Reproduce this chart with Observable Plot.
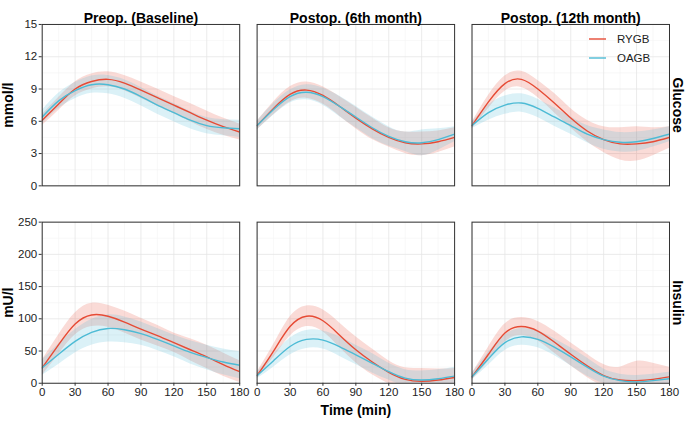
<!DOCTYPE html>
<html>
<head>
<meta charset="utf-8">
<script src="https://cdn.jsdelivr.net/npm/d3@7"></script>
<script src="https://cdn.jsdelivr.net/npm/@observablehq/plot@0.6"></script>
<style>
  body { margin: 0; background: #fff; font-family: "Liberation Sans", Arial, sans-serif; }
  #chart { position: relative; width: 685px; height: 426px; overflow: hidden; }
  #chart > svg { display: block; }
  g[aria-label="x-axis label"] text,
  g[aria-label="y-axis label"] text,
  g[aria-label="fx-axis tick label"] text,
  g[aria-label="fy-axis tick label"] text { font-weight: bold; font-size: 14px; fill: #000; }
  g[aria-label="x-axis tick label"] text,
  g[aria-label="y-axis tick label"] text { font-size: 11.5px; fill: #222; }
  #legend { position: absolute; left: 588.5px; top: 29.5px; font-size: 11.5px; color: #222; }
  #legend .item { display: flex; align-items: center; height: 19px; }
  #legend .sw { display: block; margin-right: 11.5px; }
</style>
</head>
<body>
<div id="chart"></div>
<script>
// ---- data ----
const time = [0, 15, 30, 45, 60, 75, 90, 105, 120, 135, 150, 165, 180];
const periods = ["Preop. (Baseline)", "Postop. (6th month)", "Postop. (12th month)"];
const groups = ["RYGB", "OAGB"];
const groupColors = ["#E64B35", "#4DBBD5"];

const timeTicks = [0, 30, 60, 90, 120, 150, 180];
const timeMinor = [15, 45, 75, 105, 135, 165];
const glucoseTicks = [0, 3, 6, 9, 12, 15];
const glucoseMinor = [1.5, 4.5, 7.5, 10.5, 13.5];
const insulinTicks = [0, 50, 100, 150, 200, 250];
const insulinMinor = [25, 75, 125, 175, 225];

// Glucose (mmol/l): mean curves and ribbon half-widths
const gluRYGBPre   = [6.1, 7.6, 9.0, 9.7, 9.9, 9.55, 8.9, 8.2, 7.5, 6.8, 6.1, 5.5, 5.0];
const gluRYGBPreW  = [0.5, 0.6, 0.65, 0.7, 0.7, 0.7, 0.75, 0.8, 0.8, 0.85, 0.85, 0.8, 0.75];
const gluOAGBPre   = [6.4, 7.9, 8.85, 9.4, 9.4, 9.0, 8.3, 7.5, 6.8, 6.1, 5.6, 5.4, 5.3];
const gluOAGBPreW  = [0.6, 0.7, 0.75, 0.8, 0.85, 0.85, 0.85, 0.85, 0.85, 0.8, 0.75, 0.75, 0.8];
const gluRYGB6m    = [5.6, 7.2, 8.5, 8.9, 8.4, 7.4, 6.3, 5.3, 4.5, 4.0, 3.9, 4.1, 4.5];
const gluRYGB6mW   = [0.4, 0.6, 0.7, 0.75, 0.8, 0.9, 1.0, 1.0, 0.9, 1.0, 1.1, 1.0, 0.9];
const gluOAGB6m    = [5.6, 7.1, 8.3, 8.7, 8.3, 7.4, 6.4, 5.4, 4.6, 4.1, 4.0, 4.3, 4.8];
const gluOAGB6mW   = [0.4, 0.55, 0.6, 0.7, 0.8, 0.95, 1.0, 1.0, 0.9, 0.9, 1.2, 1.0, 0.7];
const gluRYGB12m   = [5.6, 7.8, 9.5, 9.9, 9.0, 7.7, 6.3, 5.1, 4.3, 3.9, 3.9, 4.1, 4.5];
const gluRYGB12mW  = [0.3, 0.6, 0.7, 0.75, 0.8, 0.9, 0.9, 1.0, 1.2, 1.5, 1.6, 1.3, 1.0];
const gluOAGB12m   = [5.6, 6.8, 7.5, 7.7, 7.2, 6.4, 5.6, 4.8, 4.3, 4.05, 4.1, 4.4, 4.8];
const gluOAGB12mW  = [0.3, 0.7, 0.85, 0.85, 0.85, 0.85, 0.8, 0.8, 0.9, 0.9, 0.9, 0.8, 0.7];

// Insulin (mU/l): mean curves and ribbon half-widths
const insRYGBPre   = [24, 60, 92, 106, 104, 95, 84, 74, 63, 52, 41, 29, 18];
const insRYGBPreW  = [12, 15, 17, 18, 17, 17, 17, 16, 15, 17, 18, 18, 17];
const insOAGBPre   = [24, 45, 65, 79, 85, 83, 77, 68, 58, 48, 40, 33, 28];
const insOAGBPreW  = [12, 16, 18, 20, 21, 20, 18, 17, 17, 18, 19, 20, 21];
const insRYGB6m    = [12, 50, 88, 104, 97, 75, 52, 33, 17, 6, 3, 5, 9];
const insRYGB6mW   = [5, 10, 15, 16, 17, 19, 20, 20, 18, 18, 20, 17, 14];
const insOAGB6m    = [12, 35, 57, 68, 67, 57, 44, 31, 18, 8, 5, 7, 11];
const insOAGB6mW   = [5, 10, 13, 14, 14, 15, 15, 15, 13, 13, 14, 14, 14];
const insRYGB12m   = [10, 45, 78, 88, 81, 64, 45, 27, 12, 5, 4, 6, 10];
const insRYGB12mW  = [5, 11, 14, 14, 15, 17, 18, 18, 17, 20, 30, 25, 15];
const insOAGB12m   = [10, 38, 63, 72, 68, 56, 41, 25, 11, 4, 2, 4, 7];
const insOAGB12mW  = [5, 10, 12, 13, 13, 13, 14, 14, 11, 10, 10, 10, 10];

// ---- tables ----
function build(metric, series) {
  const rows = [];
  for (const [period, group, mean, hw] of series) {
    time.forEach((t, i) => rows.push({metric, period, group, t, y: mean[i], lo: mean[i] - hw[i], hi: mean[i] + hw[i]}));
  }
  return rows;
}
const glucose = build("Glucose", [
  [periods[0], "RYGB", gluRYGBPre, gluRYGBPreW], [periods[0], "OAGB", gluOAGBPre, gluOAGBPreW],
  [periods[1], "RYGB", gluRYGB6m, gluRYGB6mW],   [periods[1], "OAGB", gluOAGB6m, gluOAGB6mW],
  [periods[2], "RYGB", gluRYGB12m, gluRYGB12mW], [periods[2], "OAGB", gluOAGB12m, gluOAGB12mW]
]);
const insulin = build("Insulin", [
  [periods[0], "RYGB", insRYGBPre, insRYGBPreW], [periods[0], "OAGB", insOAGBPre, insOAGBPreW],
  [periods[1], "RYGB", insRYGB6m, insRYGB6mW],   [periods[1], "OAGB", insOAGB6m, insOAGB6mW],
  [periods[2], "RYGB", insRYGB12m, insRYGB12mW], [periods[2], "OAGB", insOAGB12m, insOAGB12mW]
]);

function panelRow({data, metric, yDomain, yTicks, yMinor, yLabel, top, height, marginTop, marginBottom}) {
  const ff = {fx: "period", fy: "metric"};
  const marks = [
    Plot.gridX(timeMinor, {stroke: "#f3f3f3", strokeOpacity: 1, strokeWidth: 0.6}),
    Plot.gridY(yMinor, {stroke: "#f3f3f3", strokeOpacity: 1, strokeWidth: 0.6}),
    Plot.gridX(timeTicks, {stroke: "#e6e6e6", strokeOpacity: 1, strokeWidth: 0.8}),
    Plot.gridY(yTicks, {stroke: "#e6e6e6", strokeOpacity: 1, strokeWidth: 0.8}),
    Plot.areaY(data, {x: "t", y1: "lo", y2: "hi", fill: "group", z: "group", fillOpacity: 0.2, curve: "natural", clip: true, ...ff}),
    Plot.line(data, {x: "t", y: "y", stroke: "group", z: "group", strokeWidth: 1.4, curve: "natural", clip: true, ...ff}),
    Plot.frame({stroke: "#333", strokeWidth: 1}),
    Plot.axisY(yTicks, {tickSize: 3, tickPadding: 2, stroke: "#333", label: yLabel, labelAnchor: "center", labelArrow: "none"}),
    Plot.axisFy({anchor: "right", label: null, tickRotate: 90, tickPadding: 13.5})
  ];
  if (top) {
    marks.push(Plot.axisFx({anchor: "top", label: null, tickPadding: 1.5}));
  } else {
    marks.push(Plot.axisX(timeTicks, {tickSize: 3, tickPadding: 2, stroke: "#333", label: "Time (min)", labelAnchor: "center", labelArrow: "none"}));
  }
  return Plot.plot({
    width: 685, height, marginTop, marginBottom, marginLeft: 41.7, marginRight: 16,
    style: {fontFamily: '"Liberation Sans", Arial, sans-serif', fontSize: "11.5px", color: "#1a1a1a", background: "transparent", overflow: "visible"},
    fx: {domain: periods, paddingInner: 0.081, paddingOuter: 0, round: false, axis: null},
    fy: {domain: [metric], round: false, axis: null},
    x: {domain: [0, 180], axis: null},
    y: {domain: yDomain, axis: null},
    color: {domain: groups, range: groupColors},
    marks
  });
}

const chart = document.getElementById("chart");
chart.append(panelRow({data: glucose, metric: "Glucose", yDomain: [0, 15], yTicks: glucoseTicks, yMinor: glucoseMinor,
  yLabel: "mmol/l", top: true, height: 200, marginTop: 15, marginBottom: 5.7}));
chart.append(panelRow({data: insulin, metric: "Insulin", yDomain: [0, 250], yTicks: insulinTicks, yMinor: insulinMinor,
  yLabel: "mU/l", top: false, height: 226, marginTop: 12.7, marginBottom: 34.3}));

// legend (inside top-right panel)
const legend = document.createElement("div");
legend.id = "legend";
const NS = "http://www.w3.org/2000/svg";
groups.forEach((g, i) => {
  const item = document.createElement("div");
  item.className = "item";
  const sw = document.createElementNS(NS, "svg");
  sw.setAttribute("class", "sw");
  sw.setAttribute("width", "17");
  sw.setAttribute("height", "4");
  const ln = document.createElementNS(NS, "line");
  ln.setAttribute("x1", "0"); ln.setAttribute("x2", "17");
  ln.setAttribute("y1", "2"); ln.setAttribute("y2", "2");
  ln.setAttribute("stroke", groupColors[i]);
  ln.setAttribute("stroke-width", "1.4");
  sw.append(ln);
  const label = document.createElement("span");
  label.textContent = g;
  item.append(sw, label);
  legend.append(item);
});
chart.append(legend);
</script>
</body>
</html>
